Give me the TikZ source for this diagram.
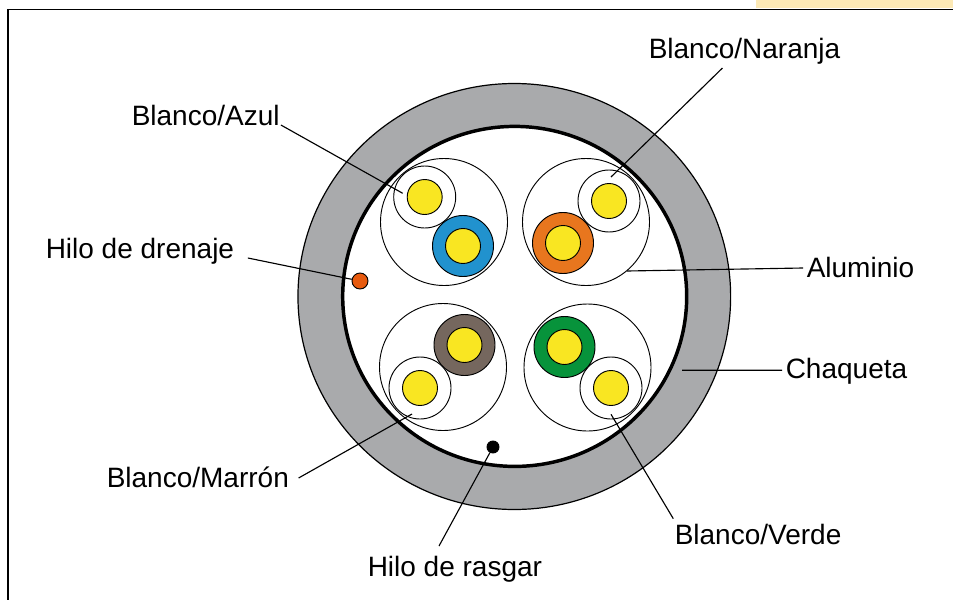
\documentclass[tikz,border=0pt]{standalone}
\usepackage{fontspec}
\usetikzlibrary{shapes.geometric}
\setmainfont{Liberation Sans}
\definecolor{jacket}{HTML}{A9AAAC}
\definecolor{core}{HTML}{F9E622}
\definecolor{cblue}{HTML}{2192CE}
\definecolor{corange}{HTML}{E8761E}
\definecolor{cbrown}{HTML}{75675E}
\definecolor{cgreen}{HTML}{07933B}
\definecolor{drain}{HTML}{E75A0E}
\definecolor{tab}{HTML}{FCE9B6}
\tikzset{
  x=0.75pt,y=-0.75pt,
  lbl/.style={inner sep=0pt,anchor=base west,font=\fontsize{21pt}{25pt}\selectfont,text=black},
  lead/.style={draw=black,line width=0.85pt},
  wire/.style={circle,draw=black,line width=0.7pt,inner sep=0pt,minimum size=#1*1.5pt},
  shield/.style={wire=63.5,fill=white},
  whitecase/.style={wire=31,fill=white},
  colourcase/.style={wire=30.5,fill=#1},
  corewire/.style={wire=17.5,fill=core},
}
\begin{document}
\begin{tikzpicture}
\useasboundingbox (0,0) rectangle (953,600);
\fill[tab] (756,0) rectangle (953,8);
\draw[line width=1.2pt,black] (953,9.5) -- (7.7,9.5) -- (7.7,600);
% jacket
\node[ellipse,draw=black,line width=0.9pt,fill=jacket,inner sep=0pt,minimum width=324.5pt,minimum height=319.5pt] (outer) at (514.3,296.5) {};
\node[ellipse,draw=black,line width=2.6pt,fill=white,inner sep=0pt,minimum width=258pt,minimum height=255pt] (inner) at (514.7,296.4) {};
% pair top-left
\node[shield] (s1) at (444,222) {};
\node[whitecase] (w1) at (424.7,197) {};
\node[corewire] (y1) at (424.7,197) {};
\node[colourcase=cblue] (c1) at (463,246) {};
\node[corewire] (z1) at (463,246) {};
% pair top-right
\node[shield] (s2) at (586,222) {};
\node[whitecase] (w2) at (609,201) {};
\node[corewire] (y2) at (609,201) {};
\node[colourcase=corange] (c2) at (563,243) {};
\node[corewire] (z2) at (563,243) {};
% pair bottom-left
\node[shield] (s3) at (443,367) {};
\node[whitecase] (w3) at (420,388) {};
\node[corewire] (y3) at (420,388) {};
\node[colourcase=cbrown] (c3) at (464.5,345) {};
\node[corewire] (z3) at (464.5,345) {};
% pair bottom-right
\node[shield] (s4) at (587.5,367.5) {};
\node[whitecase] (w4) at (611,388) {};
\node[corewire] (y4) at (611,388) {};
\node[colourcase=cgreen] (c4) at (564.5,347) {};
\node[corewire] (z4) at (564.5,347) {};
% small wires
\node[wire=8,fill=drain] (drainw) at (360,281) {};
\node[wire=6,fill=black] (rip) at (493,447) {};
% labels
\node[lbl] (lAzul) at (131.5,125) {Blanco/Azul};
\node[lbl] (lNar) at (648.5,58) {Blanco/Naranja};
\node[lbl] (lAlu) at (806.5,277) {Aluminio};
\node[lbl] (lCha) at (785.5,378) {Chaqueta};
\node[lbl] (lVer) at (674.5,544) {Blanco/Verde};
\node[lbl] (lRas) at (367.5,576) {Hilo de rasgar};
\node[lbl] (lMar) at (106.5,487) {Blanco/Marrón};
\node[lbl] (lDre) at (45.5,258) {Hilo de drenaje};
% leader ends
\coordinate (eAzul) at (402.7,193.3);
\coordinate (eNar) at (611,177);
\coordinate (eAlu) at (627,271);
\coordinate (eCha) at (682,370.3);
\coordinate (eVer) at (611,414.3);
\coordinate (eMar) at (412,414);
% leaders
\draw[lead] ([shift={(1,0)}]lAzul.base east) -- (eAzul);
\draw[lead] ([shift={(-118,10)}]lNar.base east) -- (eNar);
\draw[lead] ([shift={(-3.5,-9)}]lAlu.base west) -- (eAlu);
\draw[lead] ([shift={(-3.5,-7.7)}]lCha.base west) -- (eCha);
\draw[lead] ([shift={(-1.2,-25.3)}]lVer.base west) -- (eVer);
\draw[lead] ([shift={(71.5,-30)}]lRas.base west) -- (rip);
\draw[lead] ([shift={(9.5,-9)}]lMar.base east) -- (eMar);
\draw[lead] ([shift={(13.5,0)}]lDre.base east) -- (drainw);
\end{tikzpicture}
\end{document}
